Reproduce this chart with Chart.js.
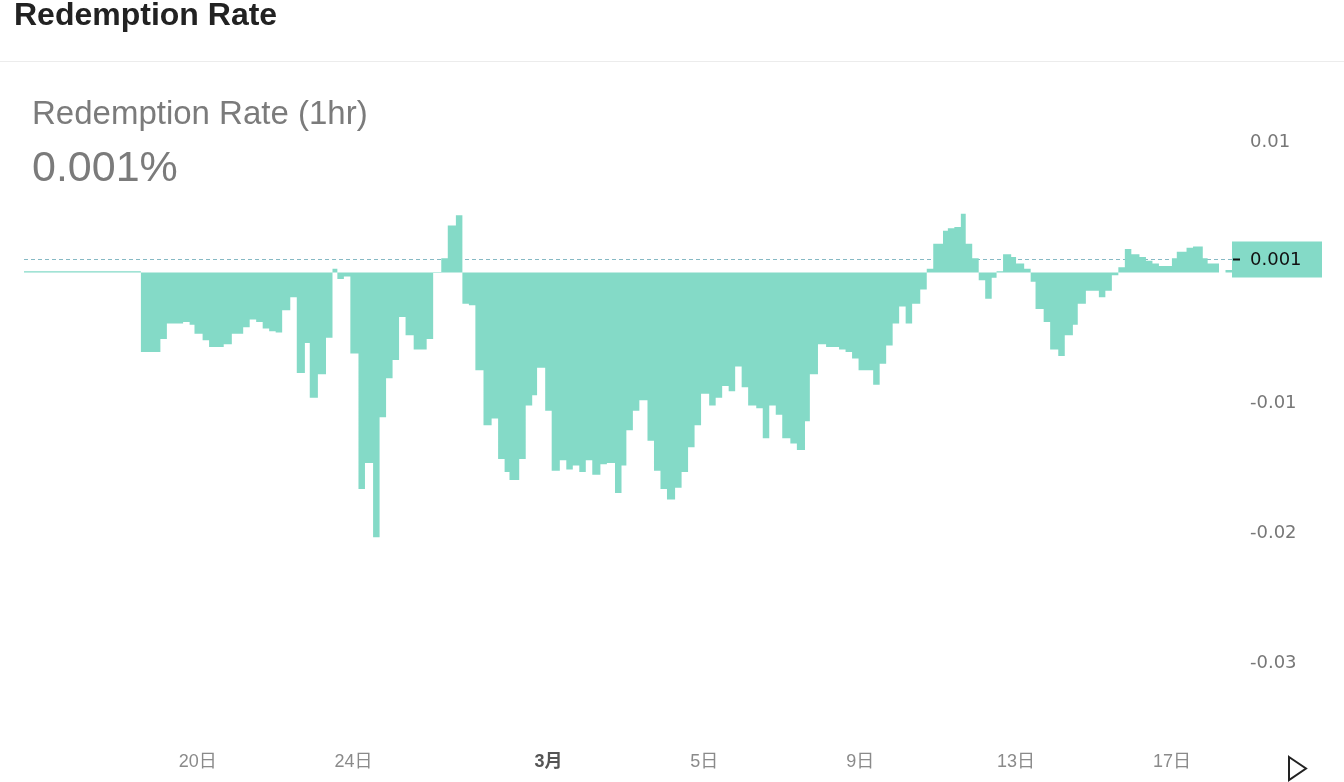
<!DOCTYPE html>
<html>
<head>
<meta charset="utf-8">
<script src="https://cdn.jsdelivr.net/npm/chart.js@4.4.1/dist/chart.umd.min.js"></script>
<style>
  html, body { margin: 0; padding: 0; background: #fff; }
  #wrap { position: relative; width: 1344px; height: 782px; overflow: hidden; }
  #myChart { position: absolute; left: 0; top: 0; }
  .txt { position: absolute; white-space: nowrap; line-height: 1; font-family: "Liberation Sans", Arial, sans-serif; }
  #head { left: 14px; top: -2px; font-size: 32px; font-weight: bold; color: #222; }
  #rule { position: absolute; left: 0; top: 61px; width: 1344px; height: 1px; background: #ececec; }
  #sub { left: 32px; top: 96px; font-size: 33px; color: #7b7b7b; }
  #val { left: 32px; top: 145px; font-size: 43px; color: #7b7b7b; }
</style>
</head>
<body>
<div id="wrap">
  <canvas id="myChart" width="1344" height="782"></canvas>
  <div class="txt" id="head">Redemption Rate</div>
  <div id="rule"></div>
  <div class="txt" id="sub">Redemption Rate (1hr)</div>
  <div class="txt" id="val">0.001%</div>
</div>
<script>
// hours counted from Feb 20 00:00; each entry is where the hourly rate changes
const stepHours = [
  -107, -35, -23, -19, -9, -5, -2, 3, 7, 16,
  21, 28, 32, 36, 40, 44, 48, 52, 57, 61,
  66, 69, 74, 79, 83, 86, 90, 94, 99, 103,
  108, 112, 116, 120, 124, 128, 133, 141, 145, 150,
  154, 159, 163, 167, 171, 176, 181, 185, 189, 192,
  198, 202, 206, 209, 214, 218, 223, 227, 231, 235,
  239, 243, 248, 252, 257, 261, 264, 268, 272, 277,
  281, 285, 289, 294, 298, 302, 306, 310, 315, 319,
  323, 327, 331, 335, 339, 344, 348, 352, 356, 360,
  365, 369, 374, 377, 382, 387, 395, 399, 403, 407,
  416, 420, 424, 428, 432, 436, 440, 445, 449, 453,
  459, 462, 466, 470, 473, 477, 481, 485, 489, 492,
  496, 501, 504, 509, 513, 516, 521, 525, 530, 534,
  539, 542, 547, 555, 559, 563, 567, 571, 575, 580,
  584, 588, 592, 600, 603, 609, 613, 619, 622, 629,
  633, 637
];
const stepValues = [
  0.0001, -0.0061, -0.0051, -0.0039, -0.0038, -0.0040, -0.0047, -0.0052, -0.0057, -0.0055,
  -0.0047, -0.0042, -0.0036, -0.0038, -0.0043, -0.0045, -0.0046, -0.0029, -0.0019, -0.0077,
  -0.0054, -0.0096, -0.0078, -0.0050, 0.0003, -0.0005, -0.0003, -0.0062, -0.0166, -0.0146,
  -0.0203, -0.0111, -0.0081, -0.0067, -0.0034, -0.0048, -0.0059, -0.0051, 0.00005, 0.0011,
  0.0036, 0.0044, -0.0024, -0.0025, -0.0075, -0.0117, -0.0112, -0.0143, -0.0153, -0.0159,
  -0.0143, -0.0102, -0.0094, -0.0073, -0.0106, -0.0152, -0.0144, -0.0151, -0.0148, -0.0153,
  -0.0144, -0.0155, -0.0147, -0.0146, -0.0169, -0.0148, -0.0121, -0.0106, -0.0098, -0.0129,
  -0.0152, -0.0166, -0.0174, -0.0165, -0.0153, -0.0134, -0.0117, -0.0093, -0.0102, -0.0096,
  -0.0087, -0.0091, -0.0072, -0.0088, -0.0102, -0.0104, -0.0127, -0.0102, -0.0109, -0.0127,
  -0.0131, -0.0136, -0.0114, -0.0078, -0.0055, -0.0057, -0.0059, -0.0061, -0.0066, -0.0075,
  -0.0086, -0.0070, -0.0056, -0.0039, -0.0026, -0.0039, -0.0024, -0.0013, 0.0003, 0.0022,
  0.0032, 0.0034, 0.0035, 0.0045, 0.0022, 0.0011, -0.0006, -0.0020, -0.0004, 0.0001,
  0.0014, 0.0012, 0.0007, 0.0003, -0.0007, -0.0028, -0.0038, -0.0059, -0.0064, -0.0048,
  -0.0040, -0.0024, -0.0014, -0.0019, -0.0014, -0.0002, 0.0004, 0.0018, 0.0014, 0.0012,
  0.0009, 0.0007, 0.0005, 0.0011, 0.0016, 0.0019, 0.0020, 0.0011, 0.0007, 0,
  0.0002, 0.0002
];

const xTickHours = [0, 96, 216, 312, 408, 504, 600];
const xTickLabels = ['20日', '24日', '3月', '5日', '9日', '13日', '17日'];
const yTickValues = [0.01, 0, -0.01, -0.02, -0.03];
const yTickLabels = ['0.01', '0', '-0.01', '-0.02', '-0.03'];
const currentRate = 0.001;
const currentLabel = '0.001';

const mint = '#84dac7';

const markers = {
  id: 'markers',
  beforeDatasetsDraw(chart) {
    const c = chart.ctx, a = chart.chartArea;
    const y = chart.scales.y.getPixelForValue(currentRate);
    c.save();
    c.strokeStyle = '#86b9c4';
    c.lineWidth = 1;
    c.setLineDash([4, 3]);
    c.beginPath();
    c.moveTo(a.left, y);
    c.lineTo(a.right, y);
    c.stroke();
    c.restore();
  },
  afterDraw(chart) {
    const c = chart.ctx, a = chart.chartArea;
    const y = chart.scales.y.getPixelForValue(currentRate);
    c.save();
    // price badge on the right axis
    c.fillStyle = mint;
    c.fillRect(a.right, y - 18, 90, 36);
    c.strokeStyle = '#111';
    c.lineWidth = 2;
    c.beginPath();
    c.moveTo(a.right + 1, y);
    c.lineTo(a.right + 8, y);
    c.stroke();
    c.fillStyle = '#111';
    c.font = '18px "DejaVu Sans", sans-serif';
    c.textBaseline = 'middle';
    c.fillText(currentLabel, a.right + 18, y + 1);
    // play arrow bottom right
    c.strokeStyle = '#222';
    c.lineWidth = 2;
    c.lineJoin = 'miter';
    c.beginPath();
    c.moveTo(1289, 757);
    c.lineTo(1306, 768.5);
    c.lineTo(1289, 780);
    c.closePath();
    c.stroke();
    c.restore();
  }
};

const ctx = document.getElementById('myChart');

new Chart(ctx, {
  type: 'line',
  data: {
    datasets: [{
      data: stepHours.map((h, i) => ({x: h, y: stepValues[i]})),
      stepped: 'before',
      fill: 'origin',
      backgroundColor: mint,
      borderColor: 'rgba(0,0,0,0)',
      borderWidth: 0,
      pointRadius: 0
    }]
  },
  plugins: [markers],
  options: {
    responsive: false,
    animation: false,
    layout: {padding: {left: 24, top: 103, right: 0, bottom: 0}},
    plugins: {
      legend: {display: false},
      tooltip: {enabled: false}
    },
    scales: {
      x: {
        type: 'linear',
        min: -107,
        max: 637,
        grid: {display: false, drawTicks: false},
        border: {display: false},
        afterBuildTicks: s => { s.ticks = xTickHours.map(v => ({value: v})); },
        afterFit: s => { s.height = 53; },
        ticks: {
          autoSkip: false,
          maxRotation: 0,
          padding: 22,
          callback: v => xTickLabels[xTickHours.indexOf(v)],
          color: c => (c.tick && c.tick.value === 216) ? '#555' : '#8a8a8a',
          font: c => ({
            family: '"Liberation Sans", "Noto Sans CJK JP", sans-serif',
            size: 18,
            weight: (c.tick && c.tick.value === 216) ? 'bold' : 'normal'
          })
        }
      },
      y: {
        position: 'right',
        min: -0.035,
        max: 0.013,
        grid: {display: false, drawTicks: false},
        border: {display: false},
        afterBuildTicks: s => { s.ticks = yTickValues.map(v => ({value: v})); },
        afterFit: s => { s.width = 112; },
        ticks: {
          padding: 18,
          color: '#777',
          font: {family: '"DejaVu Sans", sans-serif', size: 18},
          callback: v => yTickLabels[yTickValues.indexOf(v)]
        }
      }
    }
  }
});
</script>
</body>
</html>
